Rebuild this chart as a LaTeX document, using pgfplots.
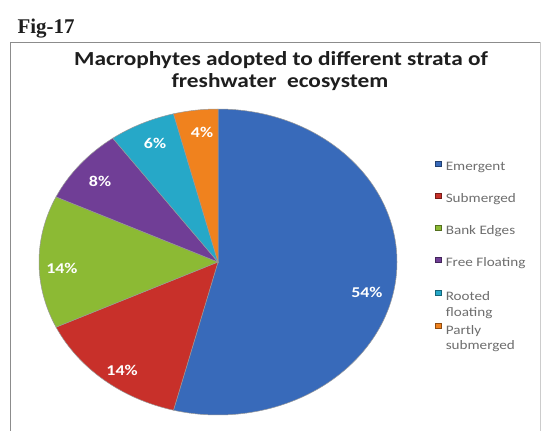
\documentclass[border=0pt]{standalone}
\usepackage{pgfplots}
\pgfplotsset{compat=1.18}
\usepackage{pgfplotstable}
\usepackage{graphicx}
\usepackage{fontspec}
\setmainfont{Carlito}
\newfontfamily\figfont{Liberation Serif}

\definecolor{cEm}{RGB}{56,106,186}
\definecolor{cSub}{RGB}{200,48,42}
\definecolor{cBank}{RGB}{140,186,52}
\definecolor{cFree}{RGB}{112,62,150}
\definecolor{cRoot}{RGB}{38,168,200}
\definecolor{cPart}{RGB}{240,130,30}
\definecolor{titlegray}{RGB}{30,30,30}
\definecolor{leggray}{RGB}{110,110,110}

% value in percent; lx, ly = label position in pie units
\pgfplotstableread[col sep=comma]{
label,value,color,lx,ly
Emergent,54,cEm,0.832,-0.196
Submerged,14,cSub,-0.536,-0.706
Bank Edges,14,cBank,-0.872,-0.039
Free Floating,8,cFree,-0.659,0.529
Rooted floating,6,cRoot,-0.352,0.778
Partly submerged,4,cPart,-0.089,0.850
}\piedata

\tikzset{pielabel/.style={font=\bfseries\fontsize{15}{17}\selectfont, text=white}}
\newcommand\hs[1]{\scalebox{1.17}[1]{#1}}
\newcommand\twoline[2]{\raisebox{0pt}[\height][0pt]{\begin{tabular}[t]{@{}l@{}}\hs{#1}\\\hs{#2}\end{tabular}}}

\newcommand\piecmds{}
\pgfplotstablegetrowsof{\piedata}
\pgfmathtruncatemacro\lastrow{\pgfplotsretval-1}
\xdef\cumul{90}
\foreach \i in {0,...,\lastrow}{%
  \pgfplotstablegetelem{\i}{value}\of\piedata \let\v\pgfplotsretval
  \pgfplotstablegetelem{\i}{color}\of\piedata \let\c\pgfplotsretval
  \pgfmathsetmacro\endang{\cumul-3.6*\v}%
  \pgfmathsetmacro\cx{cos(\cumul)}%
  \pgfmathsetmacro\cy{sin(\cumul)}%
  \xdef\piecmds{\unexpanded\expandafter{\piecmds}%
    \noexpand\fill[\c, draw=black!40, line width=0.5bp] (axis cs:0,0) -- (axis cs:\cx,\cy) arc[start angle=\cumul, end angle=\endang, x radius=179bp, y radius=153bp] -- cycle;%
  }%
  \xdef\cumul{\endang}%
}
\foreach \i in {0,...,\lastrow}{%
  \pgfplotstablegetelem{\i}{value}\of\piedata \let\v\pgfplotsretval
  \pgfplotstablegetelem{\i}{lx}\of\piedata \let\lx\pgfplotsretval
  \pgfplotstablegetelem{\i}{ly}\of\piedata \let\ly\pgfplotsretval
  \xdef\piecmds{\unexpanded\expandafter{\piecmds}%
    \noexpand\node[pielabel] at (axis cs:\lx,\ly) {\noexpand\scalebox{1.2}[1]{\v\noexpand\%}};%
  }%
}

\begin{document}
\begin{tikzpicture}
\useasboundingbox (0,0) rectangle (550bp,-431bp);
\fill[white] (0,0) rectangle (550bp,-431bp);
\draw[black!45, line width=0.8bp] (10bp,-445bp) -- (10bp,-42bp) -- (540bp,-42bp);
\draw[black!20, line width=0.8bp] (540bp,-42bp) -- (540bp,-445bp);
\node[anchor=base west, font=\figfont\bfseries\fontsize{21}{24}\selectfont, text=titlegray] at (14bp,-33bp) {Fig-17};
\node[anchor=base, font=\bfseries\fontsize{20}{22}\selectfont, text=titlegray] at (281bp,-65bp) {\hs{Macrophytes adopted to different strata of}};
\node[anchor=base, font=\bfseries\fontsize{20}{22}\selectfont, text=titlegray] at (280bp,-87bp) {\hs{freshwater~~ecosystem}};
\begin{axis}[
  at={(218bp,-262bp)}, anchor=center,
  scale only axis, width=358bp, height=306bp,
  xmin=-1, xmax=1, ymin=-1, ymax=1,
  hide axis, clip=false,
  legend cell align=left,
  legend image code/.code={\draw[#1, line width=0.5bp] (0bp,1bp) rectangle (6bp,6bp);},
  legend style={draw=none, fill=none, at={(axis description cs:1.105,0.832)}, anchor=north west,
    font=\fontsize{13}{15.5}\selectfont, text=leggray, row sep=17.5bp,
    inner sep=0pt, column sep=2.5bp},
]
\piecmds
\addlegendimage{fill=cEm, draw=cEm!60!black}
\addlegendentry{\hs{Emergent}}
\addlegendimage{fill=cSub, draw=cSub!60!black}
\addlegendentry{\hs{Submerged}}
\addlegendimage{fill=cBank, draw=cBank!60!black}
\addlegendentry{\hs{Bank Edges}}
\addlegendimage{fill=cFree, draw=cFree!60!black}
\addlegendentry{\hs{Free Floating}}
\addlegendimage{fill=cRoot, draw=cRoot!60!black}
\addlegendentry{\twoline{Rooted}{floating}}
\addlegendimage{fill=cPart, draw=cPart!60!black}
\addlegendentry{\twoline{Partly}{submerged}}
\end{axis}
\end{tikzpicture}
\end{document}
